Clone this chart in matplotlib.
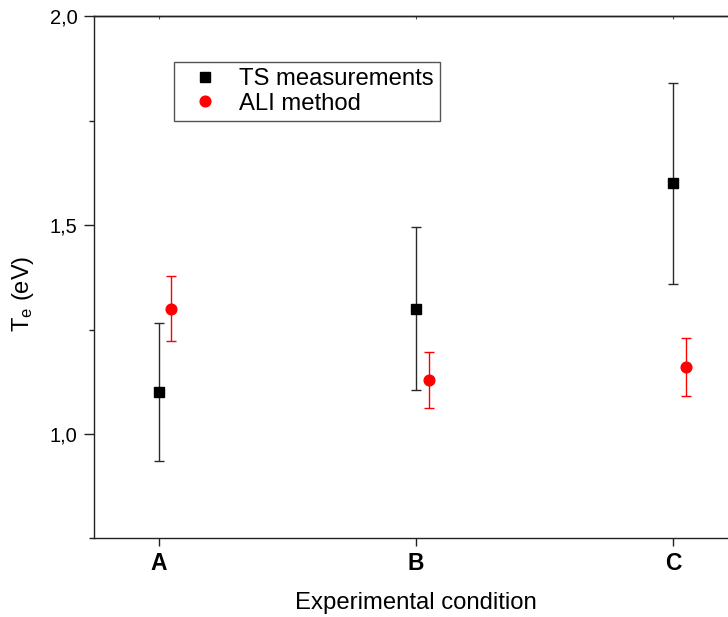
import matplotlib
matplotlib.use("Agg")
import matplotlib.pyplot as plt
import numpy as np

# ---- data ----
categories = ["A", "B", "C"]
ts_values = [1.10, 1.30, 1.60]
ts_errors = [0.165, 0.195, 0.24]
ali_values = [1.30, 1.13, 1.16]
ali_errors = [0.078, 0.067, 0.07]
y_ticks = [1.0, 1.5, 2.0]
y_ticklabels = ["1,0", "1,5", "2,0"]
y_minor = [0.75, 1.25, 1.75]

plt.rcParams['font.family'] = ['Liberation Sans', 'DejaVu Sans']
plt.rcParams['mathtext.fontset'] = 'custom'
plt.rcParams['mathtext.rm'] = 'Liberation Sans'
plt.rcParams['mathtext.it'] = 'Liberation Sans'

fig = plt.figure(figsize=(7.28, 6.17), dpi=100)
ax = fig.add_axes([0.1295, 0.1276, 0.883, 0.8457])

x = np.arange(1, len(categories) + 1)
offset = 0.05

ax.errorbar(x, ts_values, yerr=ts_errors, fmt='none',
            ecolor='#2a2a2a', elinewidth=1.0, capsize=3.8, capthick=1.0, zorder=2)
ax.plot(x, ts_values, 's', color='black', ms=6.7, label='TS measurements', zorder=3)
ax.errorbar(x + offset, ali_values, yerr=ali_errors, fmt='none',
            ecolor='#ff0000', elinewidth=1.0, capsize=3.8, capthick=1.0, zorder=2)
ax.plot(x + offset, ali_values, 'o', color='#ff0000', ms=7.7, label='ALI method', zorder=3)

ax.set_xlim(0.75, 3.25)
ax.set_ylim(0.75, 2.0)
ax.set_xticks(x)
ax.set_xticklabels(categories, fontsize=16.5, fontweight='bold')
ax.set_yticks(y_ticks)
ax.set_yticklabels(y_ticklabels, fontsize=14.5)
ax.set_yticks(y_minor, minor=True)

ax.tick_params(axis='both', which='major', direction='out', length=7, width=1.0, color='#222222')
ax.tick_params(axis='x', which='major', length=6, pad=4)
ax.tick_params(axis='y', which='minor', direction='out', length=3.5, width=1.0, color='#222222')
ax.tick_params(axis='y', which='major', pad=5)

# small inward ticks on top spine
sec = ax.secondary_xaxis('top')
sec.set_xticks(x)
sec.set_xticklabels([])
sec.tick_params(direction='in', length=2, width=0.8, color='#555555')
sec.spines['top'].set_linewidth(1.0)

for s in ax.spines.values():
    s.set_linewidth(1.0)
    s.set_color('#222222')

ax.set_xlabel('Experimental condition', fontsize=17.2, labelpad=12)
ax.set_ylabel(r'T$_{\mathregular{e}}$ (eV)', fontsize=17)
ax.yaxis.set_label_coords(-0.09, 0.468)

leg = ax.legend(loc='upper left', bbox_to_anchor=(0.1244, 0.9128), borderaxespad=0,
                fontsize=17.2, frameon=True, fancybox=False, edgecolor='#555555',
                framealpha=1, handletextpad=0.38, borderpad=0.25, labelspacing=0.12,
                handlelength=2.1, markerscale=1.0)
leg.get_frame().set_linewidth(1.0)

fig.savefig('out.png', dpi=100)
